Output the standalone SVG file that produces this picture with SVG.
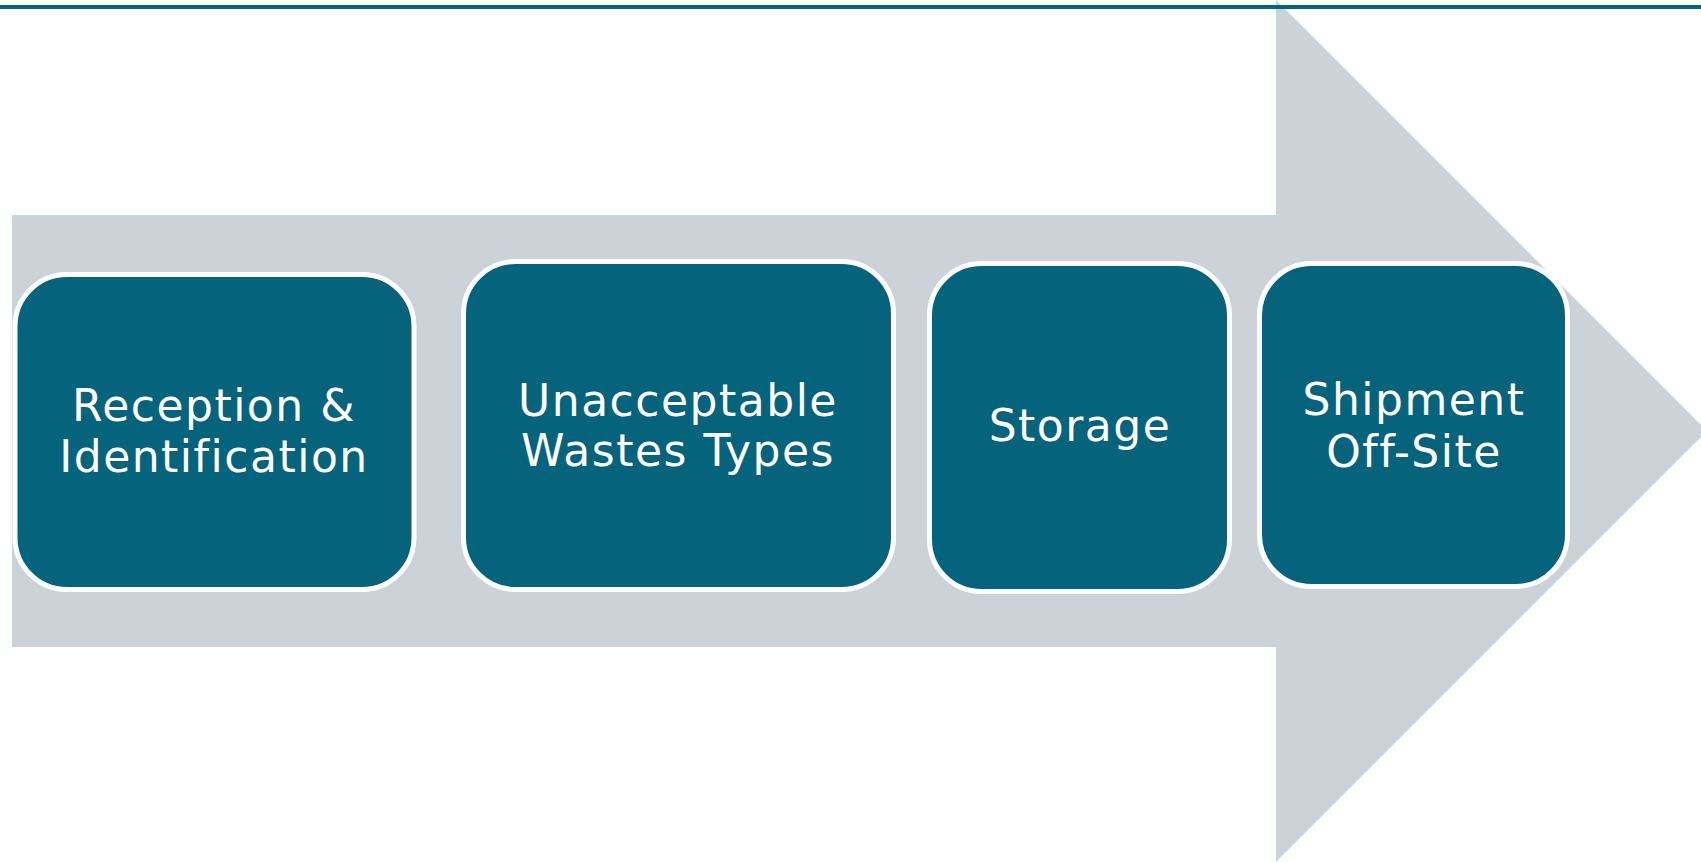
<svg xmlns="http://www.w3.org/2000/svg" width="1701" height="862" viewBox="0 0 1701 862">
  <style>
    .step { fill: #05637C; stroke: #FFFFFF; stroke-width: 5; }
    .lbl { fill: #FFFFFF; font-family: "DejaVu Sans", Verdana, sans-serif; font-size: 44px; letter-spacing: 1.5px; text-anchor: middle; }
  </style>
  <rect width="1701" height="862" fill="#FFFFFF"/>
  <g id="arrow">
    <polygon points="12,215 1276,215 1276,0 1707,431 1276,862 1276,647 12,647" fill="#CBD2D8"/>
  </g>
  <g id="topline">
    <rect x="0" y="5" width="1701" height="4" fill="#05637C"/>
  </g>
  <g id="connectors"></g>
  <g id="node1">
    <rect class="step" x="15" y="274.5" width="399" height="315" rx="52" ry="52"/>
    <text class="lbl" x="214" y="421">Reception &amp;</text>
    <text class="lbl" x="214" y="472">Identification</text>
  </g>
  <g id="node2">
    <rect class="step" x="463.5" y="261.5" width="430" height="328" rx="52" ry="52"/>
    <text class="lbl" x="678" y="416">Unacceptable</text>
    <text class="lbl" x="678" y="466">Wastes Types</text>
  </g>
  <g id="node3">
    <rect class="step" x="929.5" y="263.5" width="300" height="328" rx="52" ry="52"/>
    <text class="lbl" x="1080" y="441">Storage</text>
  </g>
  <g id="node4">
    <rect class="step" x="1259.5" y="263.5" width="308" height="323" rx="52" ry="52"/>
    <text class="lbl" x="1414" y="415">Shipment</text>
    <text class="lbl" x="1414" y="467">Off-Site</text>
  </g>
</svg>
